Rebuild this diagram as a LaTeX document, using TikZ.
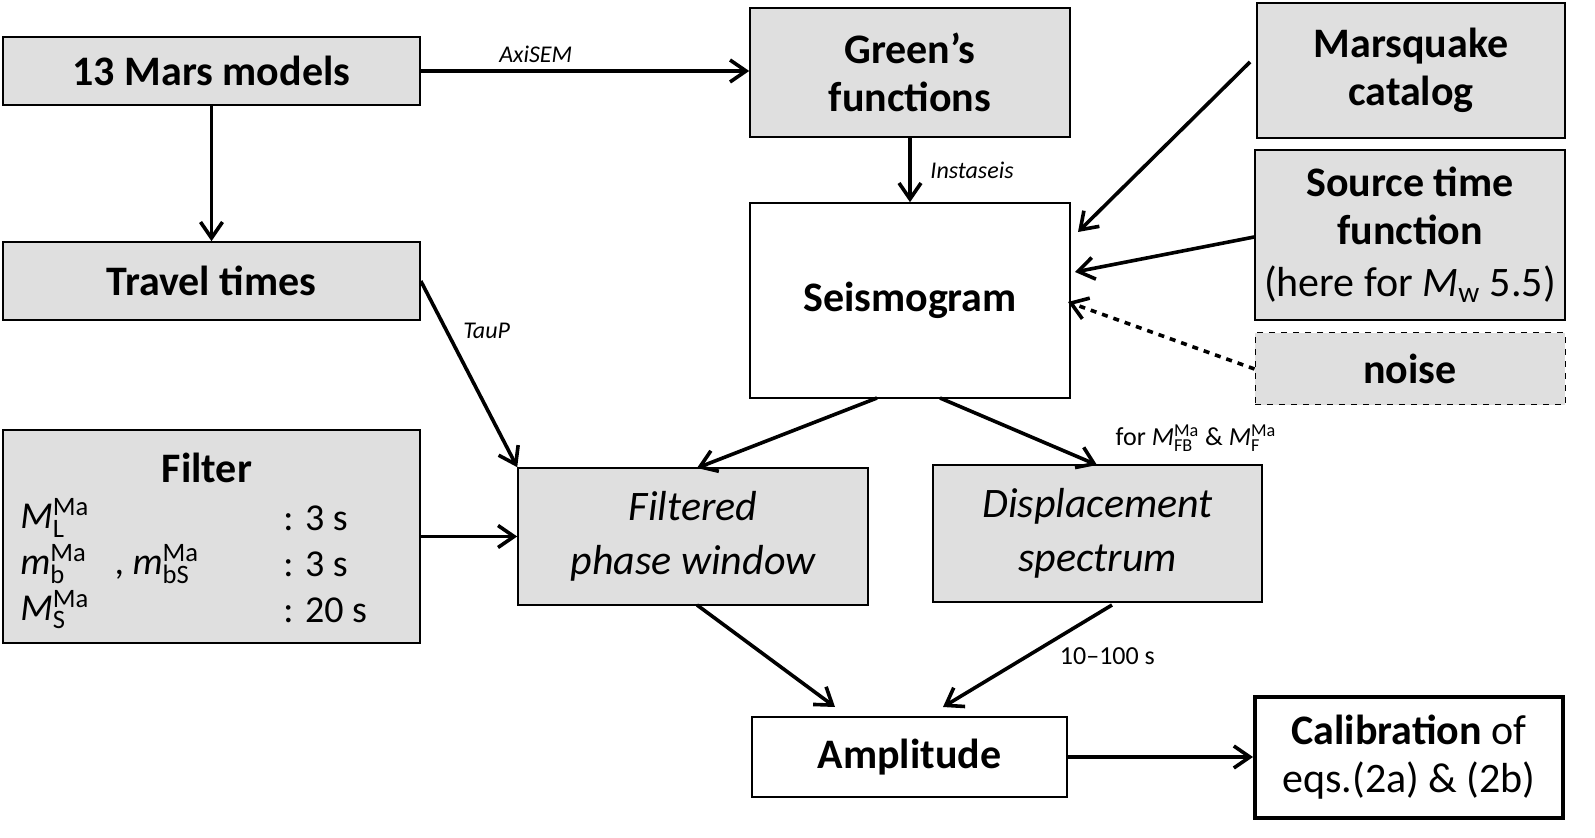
\documentclass[tikz,border=0pt]{standalone}
\usepackage{fontspec}
\setmainfont{Carlito}
\usetikzlibrary{arrows.meta}
\begin{document}
\begin{tikzpicture}[x=0.5pt,y=-0.5pt,
 box/.style={draw,line width=0.8pt,fill=gray!25,align=center,inner sep=0pt,font=\fontsize{21}{24}\selectfont\bfseries},
 wbox/.style={box,fill=white},
 arr/.style={-{Straight Barb[length=8pt,width=11pt,line width=1.8pt]},line width=1.8pt},
 lab/.style={font=\fontsize{12}{14}\selectfont\itshape}]
\useasboundingbox (0,0) rectangle (1595,838);
\node[box,minimum width=208.5pt,minimum height=34pt] (mars) at (211.5,71) {13 Mars models};
\node[box,minimum width=160pt,minimum height=64.5pt] (green) at (910,72.5) {Green's\\functions};
\node[box,minimum width=154pt,minimum height=67.5pt] (mq) at (1411,70.5) {Marsquake\\catalog};
\node[box,minimum width=155pt,minimum height=85pt] (stf) at (1410,235) {Source time\\function\\[2pt]{\mdseries(here for \textit{M}\textsubscript{w} 5.5)}};
\node[wbox,minimum width=160pt,minimum height=97.5pt] (seis) at (910,300.5) {Seismogram};
\node[box,dashed,line width=0.5pt,minimum width=155pt,minimum height=36pt] (noise) at (1410,369) {noise};
\node[box,minimum width=208.5pt,minimum height=39pt] (tt) at (211.5,281) {Travel times};
\node[box,minimum width=208.5pt,minimum height=106.5pt] (filt) at (211.5,536.5) {};
\node[box,minimum width=175pt,minimum height=68.5pt,font=\fontsize{21}{27}\selectfont\mdseries\itshape] (fpw) at (693,536.5) {Filtered\\phase window};
\node[box,minimum width=164.5pt,minimum height=68.5pt,font=\fontsize{21}{27}\selectfont\mdseries\itshape] (disp) at (1097.5,533.5) {Displacement\\spectrum};
\node[wbox,minimum width=157.5pt,minimum height=40pt] (amp) at (909.5,757) {Amplitude};
\node[wbox,line width=2pt,minimum width=154pt,minimum height=60.5pt] (cal) at (1409,757.5) {Calibration {\mdseries of}\\{\mdseries eqs.(2a) \& (2b)}};
\begin{scope}[every node/.style={font=\fontsize{19}{21}\selectfont,anchor=west,inner sep=0pt}]
\node[font=\fontsize{21}{24}\selectfont\bfseries,anchor=center] (ft) at (207,468) {Filter};
\node (f1) at (20,518) {\textit{M}$_{\mathrm{L}}^{\mathrm{Ma}}$};
\node (f2) at (20,564) {\textit{m}$_{\mathrm{b}}^{\mathrm{Ma}}$\,\,\, , \textit{m}$_{\mathrm{bS}}^{\mathrm{Ma}}$};
\node (f3) at (20,610) {\textit{M}$_{\mathrm{S}}^{\mathrm{Ma}}$};
\node (g1) at (283,518) {: 3 s};
\node (g2) at (283,564) {: 3 s};
\node (g3) at (283,610) {: 20 s};
\end{scope}
\coordinate (c1) at (1078,232);
\coordinate (c2) at (1075,272);
\coordinate (c3) at (1068,302);
\draw[arr] (mars.east) -- node[lab,above,pos=0.35] {AxiSEM} (green.west|-mars.east);
\draw[arr] (mars.south) -- (tt.north);
\draw[arr] (green.south) -- node[lab,right=6pt] {Instaseis} (seis.north);
\draw[arr] (1250,62) -- (c1);
\draw[arr] (stf.west|-0,237) -- (c2);
\draw[arr,dashed] (noise.west) -- (c3);
\draw[arr] (tt.east) -- node[lab,pos=0.27,right=4pt] {TauP} (fpw.north west);
\draw[arr] (filt.east) -- (fpw.west|-filt.east);
\draw[arr] (877,398) -- (697,468);
\draw[arr] (940,398) -- (1097,465);
\node[font=\fontsize{13}{15}\selectfont] (lfor) at (1196,438) {for \textit{M}$_{\mathrm{FB}}^{\mathrm{Ma}}$ \& \textit{M}$_{\mathrm{F}}^{\mathrm{Ma}}$};
\draw[arr] (697,605) -- (835,707);
\draw[arr] (1112,605) -- node[right=12pt,font=\fontsize{13}{15}\selectfont] {10--100 s} (943,707);
\draw[arr] (amp.east) -- (cal.west|-amp.east);
\end{tikzpicture}
\end{document}
